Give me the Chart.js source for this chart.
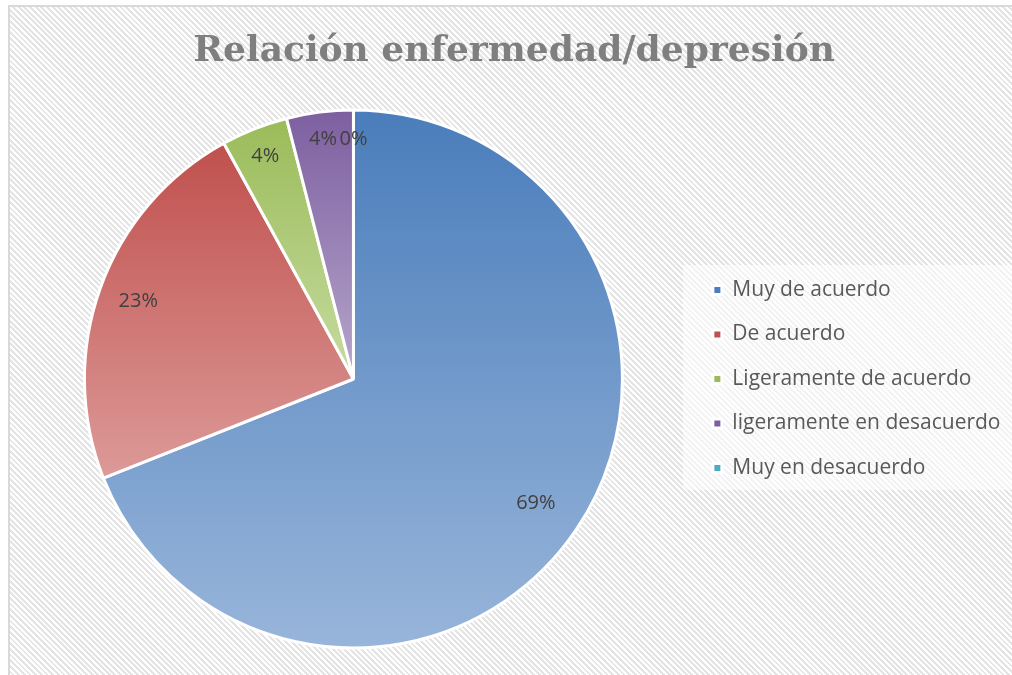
<!DOCTYPE html>
<html>
<head>
<meta charset="utf-8">
<script src="https://cdn.jsdelivr.net/npm/chart.js@4/dist/chart.umd.min.js"></script>
<style>
  html, body { margin: 0; padding: 0; background: #fff; }
  body { width: 1012px; height: 675px; overflow: hidden; position: relative; }
  .frame {
    position: absolute; left: 8px; top: 5px; width: 1010px; height: 680px;
    border-left: 2px solid #d9d9d9; border-top: 2px solid #d9d9d9;
    background: repeating-linear-gradient(45deg, #ffffff 0px, #ffffff 2px, #e4e4e4 2px, #e4e4e4 4px);
  }
  .legend-bg { position: absolute; left: 673px; top: 258px; width: 340px; height: 225px; background: rgba(255,255,255,0.55); }
  canvas { position: absolute; left: 0; top: 0; }
</style>
</head>
<body>
<div class="frame">
  <div class="legend-bg"></div>
  <canvas id="myChart" width="1002" height="668"></canvas>
</div>
<script>
/*
  • Config
  ---------- ---------- ---------- ---------- ----------
*/

const categories = ['Muy de acuerdo', 'De acuerdo', 'Ligeramente de acuerdo', 'ligeramente en desacuerdo', 'Muy en desacuerdo'];
const percentages = [69, 23, 4, 4, 0];

const topColors = ['#4a7dbb', '#c0504d', '#9bbb59', '#7d5fa0', '#4bacc6'];
const bottomColors = ['#98b5da', '#dc9a98', '#c6dca0', '#b6a6cb', '#96d0e0'];
const labelDistance = [0.82, 0.85, 0.89, 0.9, 0.89];

/*
  • Private Functions
  ---------- ---------- ---------- ---------- ----------
*/

function sliceBounds (arc) {
  const {x, y, startAngle, endAngle, outerRadius} = arc.getProps(['x', 'y', 'startAngle', 'endAngle', 'outerRadius']);
  let top = y;
  let bottom = y;
  [startAngle, endAngle].forEach(function (a) {
    const yy = y + outerRadius * Math.sin(a);
    top = Math.min(top, yy);
    bottom = Math.max(bottom, yy);
  });
  // top of circle sits at -PI/2 and 3PI/2, bottom at PI/2
  [-Math.PI / 2, Math.PI / 2, 3 * Math.PI / 2].forEach(function (a) {
    if (a > startAngle && a < endAngle) {
      const yy = y + outerRadius * Math.sin(a);
      top = Math.min(top, yy);
      bottom = Math.max(bottom, yy);
    }
  });
  return {top: top, bottom: bottom};
}

const sliceGradient = {
  id: 'sliceGradient',
  beforeDatasetsDraw (chart) {
    const ctx = chart.ctx;
    chart.getDatasetMeta(0).data.forEach(function (arc, i) {
      const b = sliceBounds(arc);
      if (b.bottom - b.top < 1) return;
      const g = ctx.createLinearGradient(0, b.top, 0, b.bottom);
      g.addColorStop(0, topColors[i]);
      g.addColorStop(1, bottomColors[i]);
      arc.options.backgroundColor = g;
    });
  }
};

const sliceLabels = {
  id: 'sliceLabels',
  afterDatasetsDraw (chart) {
    const ctx = chart.ctx;
    ctx.save();
    ctx.font = '20px "Open Sans"';
    ctx.fillStyle = '#404040';
    ctx.textAlign = 'center';
    ctx.textBaseline = 'middle';
    chart.getDatasetMeta(0).data.forEach(function (arc, i) {
      const {x, y, startAngle, endAngle, outerRadius} = arc.getProps(['x', 'y', 'startAngle', 'endAngle', 'outerRadius']);
      const mid = (startAngle + endAngle) / 2;
      const r = outerRadius * labelDistance[i];
      ctx.fillText(percentages[i] + '%', x + r * Math.cos(mid), y + r * Math.sin(mid));
    });
    ctx.restore();
  }
};

/*
  • Init
  ---------- ---------- ---------- ---------- ----------
*/

const ctx = document.getElementById('myChart').getContext('2d');

new Chart(ctx, {
  type: 'pie',
  data: {
    labels: categories,
    datasets: [{
      data: percentages,
      backgroundColor: topColors,
      borderColor: '#ffffff',
      borderWidth: 3,
      hoverOffset: 0
    }]
  },
  options: {
    responsive: false,
    devicePixelRatio: 1,
    animation: false,
    layout: {
      padding: {top: 0, left: 7.5, right: 1.5, bottom: 25.5}
    },
    plugins: {
      tooltip: {enabled: false},
      title: {
        display: true,
        text: 'Relación enfermedad/depresión',
        color: '#7f7f7f',
        font: {family: 'DejaVu Serif', size: 36, weight: 'bold'},
        padding: {top: 23.4, bottom: 34.9}
      },
      legend: {
        position: 'right',
        fullSize: false,
        labels: {
          boxWidth: 9,
          boxHeight: 9,
          padding: 23.5,
          color: '#595959',
          font: {family: 'Open Sans', size: 21}
        }
      }
    }
  },
  plugins: [sliceGradient, sliceLabels]
});
</script>
</body>
</html>
